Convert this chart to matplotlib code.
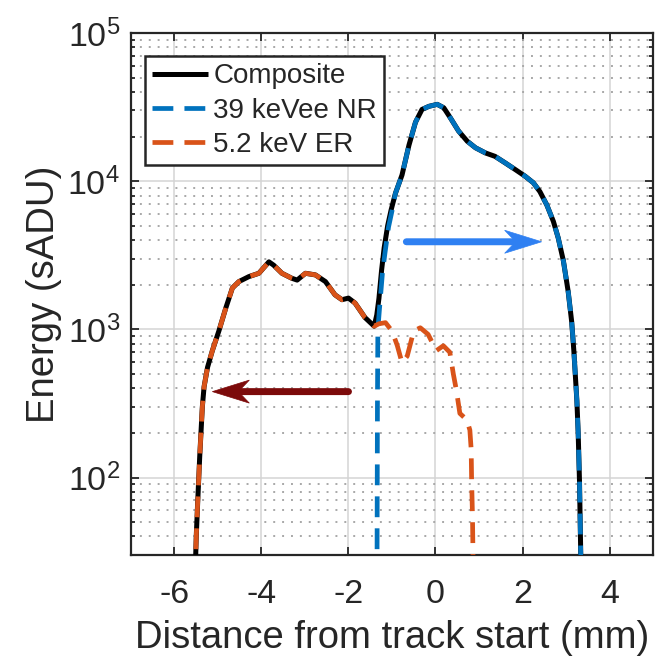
import matplotlib
matplotlib.use("Agg")
import matplotlib.pyplot as plt
from matplotlib.patches import Polygon
from matplotlib.transforms import ScaledTranslation, IdentityTransform
from matplotlib.ticker import LogLocator, FixedLocator, NullFormatter, LogFormatterSciNotation

plt.rcParams["font.family"] = ["Liberation Sans", "DejaVu Sans"]
plt.rcParams["mathtext.fontset"] = "custom"
plt.rcParams["mathtext.rm"] = "Liberation Sans"
plt.rcParams["mathtext.it"] = "Liberation Sans:italic"
plt.rcParams["mathtext.bf"] = "Liberation Sans:bold"
plt.rcParams["axes.unicode_minus"] = False
plt.rcParams["lines.scale_dashes"] = False

# ---- energy profiles along the track (distance in mm, energy in sADU) ----
comp_x = [-5.53, -5.50, -5.47, -5.42, -5.36, -5.32, -5.24, -5.13, -4.98, -4.82,
          -4.67, -4.52, -4.29, -4.06, -3.83, -3.72, -3.53, -3.30, -3.18, -2.99,
          -2.76, -2.53, -2.31, -2.15, -2.00, -1.85, -1.62, -1.41, -1.35, -1.30,
          -1.24, -1.18, -1.10, -1.02, -0.92, -0.77, -0.61, -0.46, -0.31, -0.15,
          0.04, 0.19, 0.34, 0.53, 0.73, 0.92, 1.15, 1.37, 1.60, 1.83,
          2.06, 2.25, 2.40, 2.56, 2.71, 2.82, 2.94, 3.05, 3.13, 3.18,
          3.25, 3.28, 3.31, 3.33, 3.35]
comp_e = [20, 40, 65, 139, 300, 410, 555, 718, 975, 1395,
          1900, 2100, 2270, 2390, 2855, 2710, 2390, 2210, 2150, 2390,
          2330, 2100, 1710, 1585, 1625, 1505, 1200, 1050, 1250, 1620,
          2500, 3550, 5000, 6400, 8300, 11000, 17500, 25000, 30500, 32000,
          33000, 31300, 26800, 21800, 18600, 16800, 15500, 14700, 13300, 12000,
          10800, 9750, 8500, 6900, 5350, 4150, 2900, 1800, 1130, 720,
          330, 200, 95, 43, 20]

nr_x = [-1.345, -1.335, -1.325, -1.29, -1.22, -1.16, -1.08, -1.00, -0.92, -0.77,
        -0.61, -0.46, -0.31, -0.15, 0.04, 0.19, 0.34, 0.53, 0.73, 0.92,
        1.15, 1.37, 1.60, 1.83, 2.06, 2.25, 2.40, 2.56, 2.71, 2.82,
        2.94, 3.05, 3.13, 3.18, 3.25, 3.28, 3.31, 3.33, 3.35]
nr_e = [20, 300, 1000, 1350, 2400, 3300, 4900, 6300, 8300, 11000,
        17500, 25000, 30500, 32000, 33000, 31300, 26800, 21800, 18600, 16800,
        15500, 14700, 13300, 12000, 10800, 9750, 8500, 6900, 5350, 4150,
        2900, 1800, 1130, 720, 330, 200, 95, 43, 20]

er_x = [-5.53, -5.50, -5.47, -5.42, -5.36, -5.32, -5.24, -5.13, -4.98, -4.82,
        -4.67, -4.52, -4.29, -4.06, -3.83, -3.72, -3.53, -3.30, -3.18, -2.99,
        -2.76, -2.53, -2.31, -2.15, -2.00, -1.85, -1.62, -1.41, -1.30, -1.15,
        -1.00, -0.88, -0.77, -0.65, -0.50, -0.35, -0.17, 0.02, 0.18, 0.33,
        0.41, 0.48, 0.56, 0.72, 0.79, 0.82, 0.83, 0.85, 0.87]
er_e = [20, 40, 65, 139, 300, 410, 555, 718, 975, 1395,
        1900, 2100, 2270, 2390, 2855, 2710, 2390, 2210, 2150, 2390,
        2330, 2100, 1710, 1585, 1625, 1505, 1200, 1050, 1090, 1110,
        975, 780, 595, 660, 975, 1025, 925, 718, 775, 700,
        500, 388, 271, 245, 209, 155, 97, 55, 20]

series_labels = ["Composite", "39 keVee NR", "5.2 keV ER"]
x_ticks = [-6, -4, -2, 0, 2, 4]
y_ticks = [1e2, 1e3, 1e4, 1e5]

# arrows: (tail x, tail y) -> (tip x, tip y)
nr_arrow = [(-0.67, 3900), (2.44, 3900)]
er_arrow = [(-2.0, 380), (-5.13, 380)]

BLUE = "#0072BD"
ORANGE = "#D95319"

fig = plt.figure(figsize=(6.62, 6.57), dpi=100)
ax = fig.add_axes([131 / 662, 1 - 555 / 657, (653 - 131) / 662, (555 - 33) / 657])
ax.set_yscale("log")
ax.set_xlim(-7, 5)
ax.set_ylim(30, 1e5)

ax.plot(comp_x, comp_e, color="black", lw=3.6, solid_capstyle="butt",
        solid_joinstyle="round", zorder=3, label=series_labels[0])
ax.plot(nr_x, nr_e, color=BLUE, lw=3.4, dashes=(15, 8), dash_capstyle="butt",
        zorder=4, label=series_labels[1])
ax.plot(er_x, er_e, color=ORANGE, lw=3.4, dashes=(15, 8), dash_capstyle="butt",
        zorder=4, label=series_labels[2])


def draw_arrow(points, color):
    (x0, y0), (x1, y1) = points
    ax.annotate("", xy=(x1, y1), xytext=(x0, y0),
                arrowprops=dict(arrowstyle="-", color=color, lw=5,
                                shrinkA=0, shrinkB=12),
                zorder=6)
    direction = 1 if x1 > x0 else -1
    L, W, N = 37, 11.5, 26
    verts = [(0, 0), (-direction * L, W), (-direction * N, 0), (-direction * L, -W)]
    tr = IdentityTransform() + ScaledTranslation(x1, y1, ax.transData)
    ax.add_patch(Polygon(verts, closed=True, facecolor=color, edgecolor=color,
                         lw=0.5, transform=tr, zorder=6, clip_on=False))


draw_arrow(nr_arrow, "#2F80F2")
draw_arrow(er_arrow, "#7C0A0A")

# axes styling
ax.xaxis.set_major_locator(FixedLocator(x_ticks))
ax.yaxis.set_major_locator(FixedLocator(y_ticks))
ax.yaxis.set_major_formatter(LogFormatterSciNotation())
ax.yaxis.set_minor_locator(LogLocator(base=10, subs=range(2, 10)))
ax.yaxis.set_minor_formatter(NullFormatter())

ax.grid(True, which="major", color="#d4d4d4", lw=1.1, zorder=0)
ax.grid(True, which="minor", axis="y", color="#a8a8a8", lw=1.4,
        linestyle=(0, (1.4, 5.0)), zorder=0)
ax.set_axisbelow(True)

ax.tick_params(which="both", direction="in", top=True, right=True, width=1.3,
               color="#262626")
ax.tick_params(which="major", length=6)
ax.tick_params(which="minor", length=3)
ax.tick_params(axis="x", labelsize=24.5, pad=17.5, labelcolor="#262626")
ax.tick_params(axis="y", labelsize=24.5, pad=8, labelcolor="#262626")
for s in ax.spines.values():
    s.set_linewidth(1.6)
    s.set_color("#262626")

ax.set_xlabel("Distance from track start (mm)", fontsize=27.5, color="#262626",
              labelpad=7)
ax.set_ylabel("Energy (sADU)", fontsize=27.5, color="#262626", labelpad=4)

leg = ax.legend(loc="upper left", bbox_to_anchor=(0.027, 0.955), borderaxespad=0,
                fontsize=20, frameon=True, fancybox=False, framealpha=1,
                edgecolor="#262626", handlelength=2.0, handletextpad=0.2,
                labelspacing=0.3, borderpad=0.25)
leg.get_frame().set_linewidth(1.8)
for t in leg.get_texts():
    t.set_color("#262626")

fig.savefig("out.png", dpi=100)
